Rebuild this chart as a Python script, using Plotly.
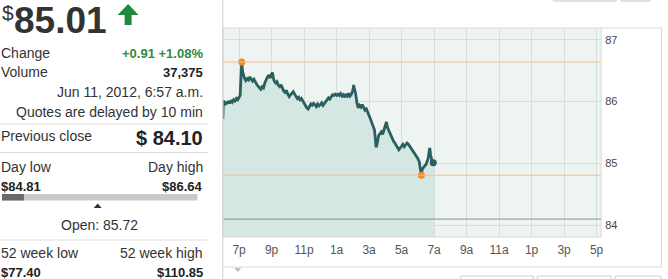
import plotly.graph_objects as go
import pandas as pd

W, H = 668, 279
FONT = "Liberation Sans, Arial, sans-serif"

# ---- data ----
minutes = [0, 2, 6, 10, 15, 20, 25, 30, 35, 40, 45, 50, 55, 60, 64, 68, 70, 73, 76, 80,
           85, 90, 95, 100, 105, 110, 115, 120, 125, 130, 135, 140, 145, 150, 155, 160,
           165, 170, 175, 180, 183, 187, 190, 195, 200, 205, 210, 215, 220, 225, 230,
           235, 240, 245, 250, 255, 260, 265, 270, 275, 280, 285, 290, 295, 300, 305,
           310, 315, 320, 325, 330, 335, 340, 345, 350, 355, 360, 365, 370, 375, 380,
           385, 390, 395, 400, 405, 410, 415, 420, 425, 430, 435, 440, 445, 450, 455,
           460, 465, 470, 475, 480, 483, 486, 490, 495, 500, 505, 510, 515, 520, 525,
           530, 535, 540, 545, 550, 555, 560, 563, 566, 570, 575, 580, 585, 590, 595,
           600, 604, 608, 612, 616, 620, 625, 630, 635, 640, 645, 650, 655, 660, 665,
           670, 675, 680, 685, 690, 695, 700, 705, 710, 715, 720, 725, 728, 731, 733,
           736, 740, 745, 750, 755, 758, 761, 764, 767, 770, 773, 777]
prices = [85.72, 86.02, 85.94, 86.00, 85.96, 86.01, 85.97, 86.02, 85.99, 86.03, 86.01, 86.05,
          86.03, 86.06, 86.10, 86.50, 86.64, 86.48, 86.42, 86.38, 86.34, 86.37, 86.35, 86.40,
          86.36, 86.33, 86.36, 86.31, 86.28, 86.25, 86.22, 86.20, 86.24, 86.22, 86.30, 86.36,
          86.40, 86.43, 86.38, 86.44, 86.47, 86.38, 86.33, 86.30, 86.32, 86.26, 86.24, 86.27,
          86.20, 86.17, 86.15, 86.18, 86.12, 86.08, 86.11, 86.14, 86.16, 86.12, 86.09, 86.05,
          86.07, 86.03, 86.05, 86.01, 85.98, 85.93, 85.90, 85.88, 85.93, 85.96, 85.94, 85.97,
          85.95, 85.92, 85.96, 85.93, 85.95, 85.98, 85.94, 85.97, 85.99, 86.03, 86.06, 86.04,
          86.08, 86.11, 86.10, 86.12, 86.10, 86.12, 86.10, 86.13, 86.09, 86.11, 86.07, 86.12,
          86.09, 86.13, 86.09, 86.12, 86.18, 86.27, 86.20, 86.14, 85.98, 85.90, 85.94, 85.91,
          85.95, 85.89, 85.86, 85.88, 85.83, 85.80, 85.72, 85.66, 85.60, 85.54, 85.40, 85.26,
          85.32, 85.45, 85.48, 85.51, 85.47, 85.53, 85.60, 85.67, 85.58, 85.54, 85.48, 85.44,
          85.40, 85.36, 85.33, 85.30, 85.26, 85.22, 85.25, 85.29, 85.31, 85.27, 85.30, 85.33,
          85.31, 85.28, 85.24, 85.21, 85.18, 85.15, 85.12, 85.08, 85.03, 84.95, 84.88, 84.81,
          84.90, 84.93, 84.96, 84.98, 85.03, 85.08, 85.17, 85.25, 85.14, 85.06, 85.03, 85.01]

start = pd.Timestamp("2012-06-10 18:00")
times = [start + pd.Timedelta(minutes=m) for m in minutes]

tick_minutes = [60, 180, 300, 420, 540, 660, 780, 900, 1020, 1140, 1260, 1380]
tick_labels = ["7p", "9p", "11p", "1a", "3a", "5a", "7a", "9a", "11a", "1p", "3p", "5p"]
tick_times = [start + pd.Timedelta(minutes=m) for m in tick_minutes]
y_ticks = [84, 85, 86, 87]

prev_close = 84.10
day_low = 84.81
day_high = 86.64
open_price = 85.72
last_price = 85.01
change = "+0.91"
change_pct = "+1.08%"
volume = "37,375"
week52_low = "$77.40"
week52_high = "$110.85"

x_start = start
x_end = start + pd.Timedelta(minutes=1397)
fill_end = start + pd.Timedelta(minutes=780)

hi_idx = prices.index(day_high)
lo_idx = prices.index(day_low)

# ---- figure ----
fig = go.Figure()
fig.add_trace(go.Scatter(
    x=times + [fill_end], y=prices + [prices[-1]], mode="lines",
    line=dict(color="rgba(0,0,0,0)", width=0),
    fill="tozeroy", fillcolor="#d4e7e3", hoverinfo="skip", showlegend=False))
fig.add_trace(go.Scatter(
    x=times, y=prices, mode="lines",
    line=dict(color="#2a5f60", width=2.8), showlegend=False))
fig.add_trace(go.Scatter(
    x=[times[-1]], y=[prices[-1]], mode="markers",
    marker=dict(color="#2a5f60", size=7), showlegend=False))
fig.add_trace(go.Scatter(
    x=[times[hi_idx], times[lo_idx]], y=[day_high, day_low], mode="markers",
    marker=dict(color="#f08a24", size=7), showlegend=False))

x0d, x1d = 223.5 / W, 603 / W
y0d, y1d = 1 - 237 / H, 1 - 28 / H

fig.update_layout(
    width=W, height=H, margin=dict(l=0, r=0, t=0, b=0),
    paper_bgcolor="white", plot_bgcolor="#eef4f1",
    font=dict(family=FONT),
    xaxis=dict(domain=[x0d, x1d], range=[x_start, x_end], tickvals=tick_times,
               ticktext=tick_labels, showgrid=True, gridcolor="#d6dfdb", gridwidth=1,
               zeroline=False, showline=False, ticks="", ticklabelstandoff=4,
               tickfont=dict(size=12, color="#555", family=FONT), fixedrange=True),
    yaxis=dict(domain=[y0d, y1d], range=[83.81, 87.19], side="right", tickvals=y_ticks,
               ticktext=[str(v) for v in y_ticks], showgrid=True, gridcolor="#d6dfdb",
               zeroline=False, showline=False, ticks="", ticklabelstandoff=3,
               tickfont=dict(size=11, color="#444", family=FONT), fixedrange=True),
    showlegend=False,
)

shapes = []
# reference lines
shapes.append(dict(type="line", xref="x", yref="y", x0=x_start, x1=x_end, y0=day_high, y1=day_high,
                   line=dict(color="#f2c08c", width=1)))
shapes.append(dict(type="line", xref="x", yref="y", x0=x_start, x1=x_end, y0=day_low, y1=day_low,
                   line=dict(color="#f2c08c", width=1)))
shapes.append(dict(type="line", xref="x", yref="y", x0=x_start, x1=x_end, y0=prev_close, y1=prev_close,
                   line=dict(color="#8a8f8d", width=1)))


def pline(x0, y0, x1, y1, color="#dddddd", width=1):
    shapes.append(dict(type="line", xref="paper", yref="paper", x0=x0 / W, x1=x1 / W,
                       y0=1 - y0 / H, y1=1 - y1 / H, line=dict(color=color, width=width)))


def prect(x0, y0, x1, y1, fill=None, line="#cccccc", lw=1):
    shapes.append(dict(type="rect", xref="paper", yref="paper", x0=x0 / W, x1=x1 / W,
                       y0=1 - y1 / H, y1=1 - y0 / H, fillcolor=fill or "rgba(0,0,0,0)",
                       line=dict(color=line, width=lw)))


def ppath(pts, fill):
    d = "M " + " L ".join(f"{x / W:.5f},{1 - y / H:.5f}" for x, y in pts) + " Z"
    shapes.append(dict(type="path", xref="paper", yref="paper", path=d, fillcolor=fill,
                       line=dict(width=0)))


# chart container
prect(223.5, 28, 603, 237, line="#d5dcd9")
pline(223.5, 0, 223.5, 279, "#cfcfcf")
pline(223.5, 267, 663.5, 267, "#d9d9d9")
pline(663.5, 28, 663.5, 267, "#d9d9d9")
pline(603, 28, 663.5, 28, "#d9d9d9")
# top buttons (bottom edges)
prect(555, -10, 618, 1, line="#c4c4c4")
prect(623, -10, 652, 1, line="#c4c4c4")
# bottom buttons (top edges)
prect(462, 276, 535, 290, line="#d0d0d0")
prect(539, 276, 613, 290, line="#d0d0d0")
prect(617, 276, 663, 290, line="#d0d0d0")
ppath([(235, 268), (242, 268), (238.5, 272)], "#bdbdbd")

# left panel separators
pline(0, 124, 209, 124)
pline(0, 152.5, 209, 152.5)
pline(0, 240, 209, 240)
# day range bar
prect(2, 194, 198, 200.5, fill="#c9c9c9", line="#c9c9c9", lw=0)
prect(2, 194, 24, 200.5, fill="#6a6a6a", line="#6a6a6a", lw=0)
ppath([(94, 208), (102, 208), (98, 203.5)], "#333333")
# green up arrow
ppath([(128.5, 4), (139, 15), (132, 15), (132, 25), (125, 25), (125, 15), (118, 15)], "#1f8a3c")

fig.update_layout(shapes=shapes)

anns = []


def txt(x, y, s, size=14, bold=False, color="#333333", anchor="left"):
    anns.append(dict(x=x / W, y=1 - y / H, xref="paper", yref="paper",
                     text=f"<b>{s}</b>" if bold else s, showarrow=False,
                     xanchor=anchor, yanchor="middle", borderpad=0,
                     font=dict(size=size, color=color, family=FONT)))


txt(1, 13, "$", size=21, color="#333")
txt(13, 20.3, f"{last_price:.2f}", size=37, bold=True, color="#333")
txt(0, 53, "Change")
txt(205, 53, f"{change} {change_pct}", size=13, bold=True, color="#2e8b3e", anchor="right")
txt(0, 72, "Volume")
txt(205, 72, volume, size=13, bold=True, color="#222", anchor="right")
txt(205, 92, "Jun 11, 2012, 6:57 a.m.", anchor="right")
txt(205, 112, "Quotes are delayed by 10 min", anchor="right")
txt(0, 136, "Previous close")
txt(205, 138, f"$ {prev_close:.2f}", size=20, bold=True, color="#222", anchor="right")
txt(0, 167, "Day low")
txt(205, 167, "Day high", anchor="right")
txt(0, 186, f"${day_low:.2f}", size=13, bold=True, color="#222")
txt(205, 186, f"${day_high:.2f}", size=13, bold=True, color="#222", anchor="right")
txt(100, 225, f"Open: {open_price:.2f}", anchor="center")
txt(0, 253, "52 week low")
txt(205, 253, "52 week high", anchor="right")
txt(0, 272, week52_low, size=13, bold=True, color="#222")
txt(205, 272, week52_high, size=13, bold=True, color="#222", anchor="right")

fig.update_layout(annotations=anns)

fig.write_html("out.html", config={"displayModeBar": False})
